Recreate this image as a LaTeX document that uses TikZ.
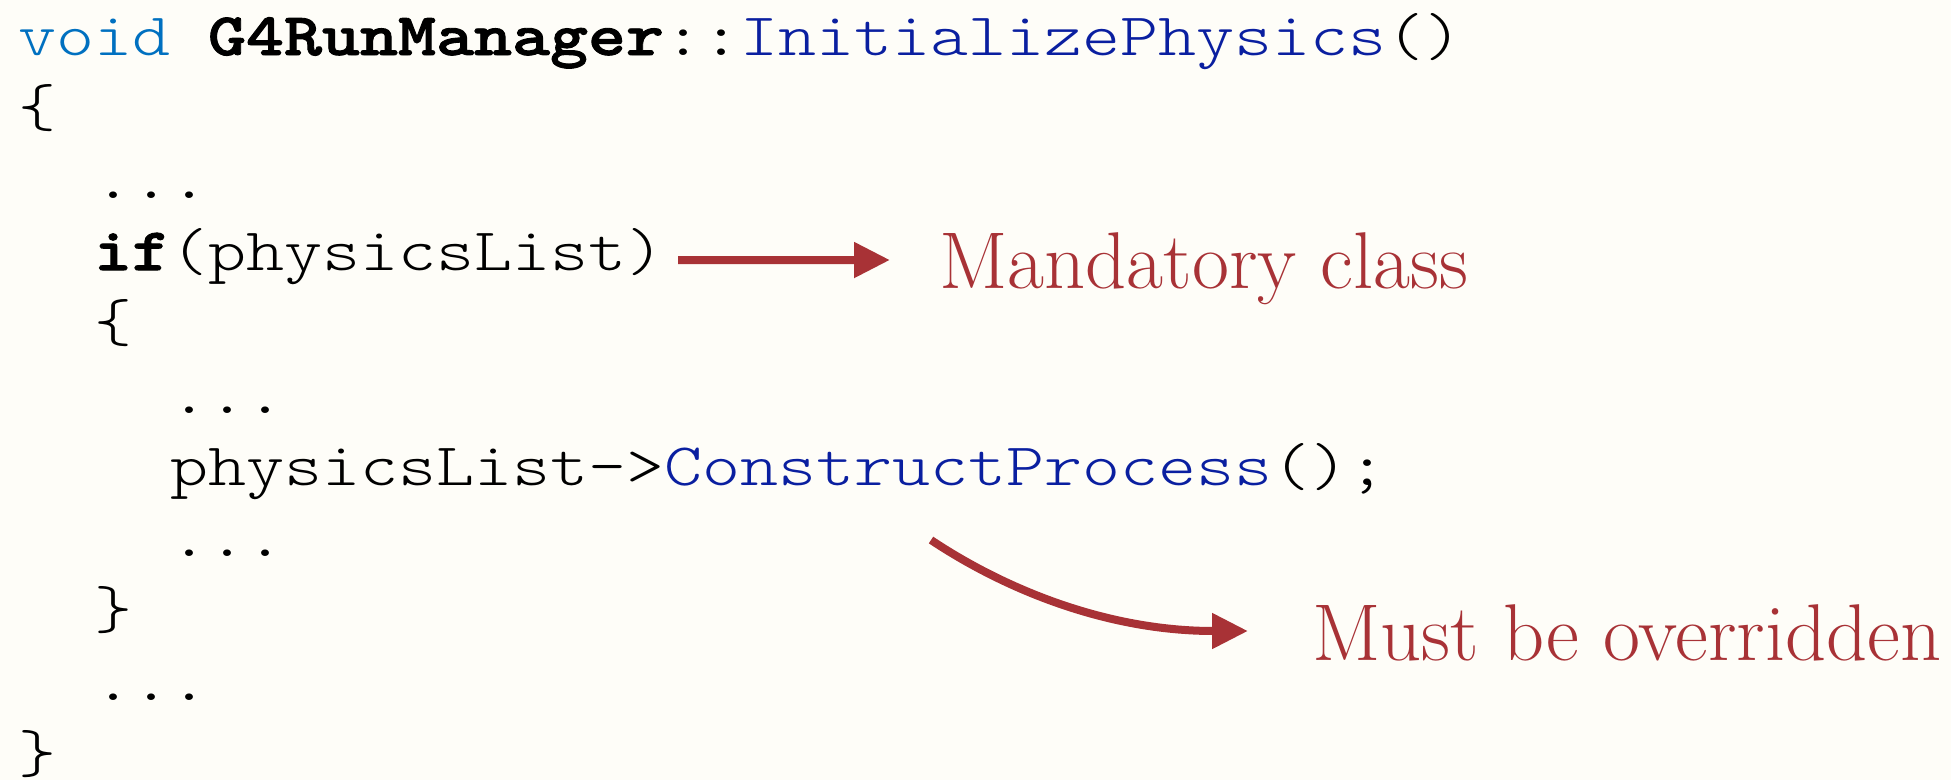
\documentclass[tikz,border=0pt]{standalone}
\usepackage{fontspec}
% light typewriter face with serifs, widened to a 0.63em column
\setmonofont{lmmonolt10-regular.otf}[BoldFont=lmmonolt10-bold.otf,
  BoldFeatures={FakeBold=1.5}, FakeStretch=1.2]
\usetikzlibrary{arrows.meta}
\definecolor{pagebg}{HTML}{FEFDF8}
\definecolor{kwblue}{HTML}{0070C0}
\definecolor{fnblue}{HTML}{0A1FA0}
\definecolor{noteRed}{HTML}{A83236}
\tikzset{
  codeline/.style={anchor=base west, inner sep=0pt, outer sep=0pt,
    font=\ttfamily\fontsize{60.32}{72}\selectfont, text=black},
  note/.style={anchor=base west, inner sep=0pt, outer sep=0pt,
    font=\fontsize{80.5}{88}\selectfont, text=noteRed},
  callout/.style={draw=noteRed, line width=8pt,
    -{Triangle[length=36pt, width=34pt]}}
}
\begin{document}
\begin{tikzpicture}[x=1pt, y=-1pt]
  % page
  \useasboundingbox (0,0) rectangle (1951,780);
  \fill[pagebg] (0,0) rectangle (1951,780);

  % source listing, one node per line (indent = 2 columns of 38pt)
  \node[codeline] (l1)  at (18, 55)    {\textcolor{kwblue}{void} \textbf{G4RunManager}::\textcolor{fnblue}{InitializePhysics}()};
  \node[codeline] (l2)  at (18, 126.7) {\{};
  \node[codeline] (l3)  at (94, 198.4) {...};
  \node[codeline] (l4)  at (94, 270.1) {\textbf{if}(physicsList)};
  \node[codeline] (l5)  at (94, 341.8) {\{};
  \node[codeline] (l6)  at (170, 413.5) {...};
  \node[codeline] (l7)  at (170, 485.2) {physicsList->\textcolor{fnblue}{ConstructProcess}();};
  \node[codeline] (l8)  at (170, 556.9) {...};
  \node[codeline] (l9)  at (94, 628.6) {\}};
  \node[codeline] (l10) at (94, 700.3) {...};
  \node[codeline] (l11) at (18, 772)   {\}};

  % annotations
  \node[note] (mand) at (939, 288) {Mandatory class};
  \node[note] (must) at (1312, 660) {Must be overridden};

  % callout arrows
  \draw[callout] ([shift={(14pt,10pt)}]l4.base east) -- ([shift={(-49pt,28pt)}]mand.base west);
  \coordinate (cstart) at (931, 540);
  \draw[callout] (cstart) .. controls (1003, 588) and (1105, 631) .. ([shift={(-64pt,29pt)}]must.base west);
\end{tikzpicture}
\end{document}
